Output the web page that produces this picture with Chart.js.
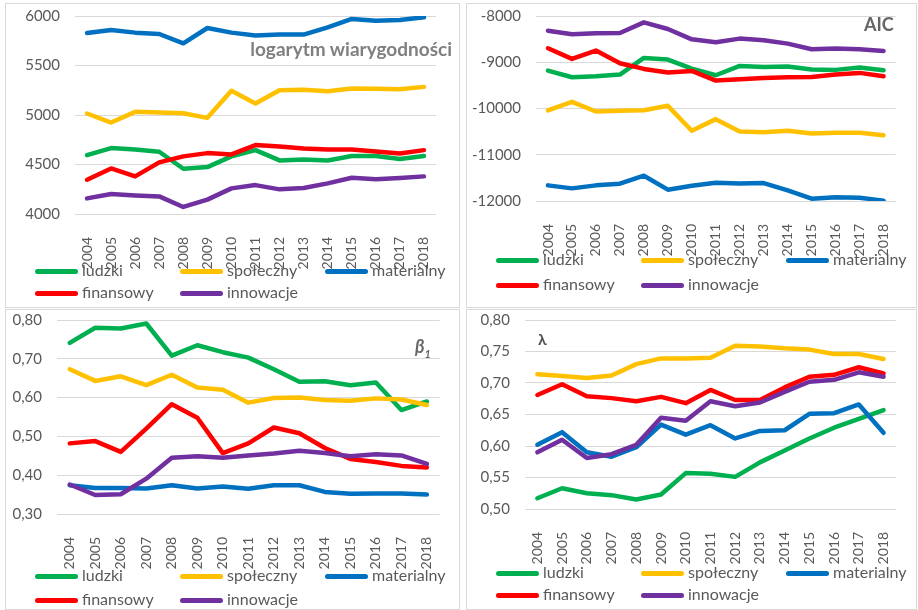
<!DOCTYPE html>
<html>
<head>
<meta charset="utf-8">
<script src="https://cdn.jsdelivr.net/npm/chart.js@4.4.0/dist/chart.umd.min.js"></script>
<style>
  body { margin: 0; background: #fff; font-family: Lato, sans-serif; }
  .panel { position: absolute; background: #fff; box-shadow: 0 0 0 1px #d9d9d9; }
  .panel canvas { position: absolute; left: 0; top: 0; }
  .title { position: absolute; font-weight: bold; white-space: nowrap; line-height: 1; }
  .leg { position: absolute; height: 20px; line-height: 20px; font-size: 16px; color: #595959; white-space: nowrap; }
  .leg .ln { display: inline-block; width: 43px; height: 5px; border-radius: 3px; vertical-align: middle; margin-right: 4px; }
</style>
</head>
<body>

<div class="panel" id="p1" style="left:6px;top:4px;width:453px;height:303px"><canvas id="c1" width="453" height="303"></canvas></div>
<div class="panel" id="p2" style="left:467px;top:4px;width:449px;height:303px"><canvas id="c2" width="449" height="303"></canvas></div>
<div class="panel" id="p3" style="left:6px;top:310px;width:453px;height:299px"><canvas id="c3" width="453" height="299"></canvas></div>
<div class="panel" id="p4" style="left:467px;top:310px;width:449px;height:299px"><canvas id="c4" width="449" height="299"></canvas></div>

<div class="title" style="left:200px;width:252px;text-align:right;top:39px;font-size:19px;color:#7f7f7f">logarytm wiarygodności</div>
<div class="title" style="left:864px;top:15px;font-size:18px;color:#666">AIC</div>
<div class="title" style="left:415px;top:337px;font-size:18px;color:#666"><i>β</i><sub style="font-size:11px"><i>1</i></sub></div>
<div class="title" style="left:538px;top:331px;font-size:16px;color:#555">λ</div>

<script>
const years = ['2004', '2005', '2006', '2007', '2008', '2009', '2010', '2011', '2012', '2013', '2014', '2015', '2016', '2017', '2018'];
const seriesNames = ['ludzki', 'społeczny', 'materialny', 'finansowy', 'innowacje'];
const seriesColors = ['#00b050', '#ffc000', '#0070c0', '#ff0000', '#7030a0'];

// logarytm wiarygodnosci
const logLudzki = [4595, 4666, 4652, 4629, 4457, 4474, 4582, 4645, 4541, 4551, 4541, 4585, 4585, 4555, 4585];
const logSpoleczny = [5015, 4924, 5032, 5025, 5018, 4971, 5244, 5116, 5250, 5254, 5240, 5267, 5264, 5261, 5284];
const logMaterialny = [5829, 5859, 5832, 5818, 5724, 5879, 5832, 5802, 5812, 5812, 5886, 5970, 5953, 5960, 5987];
const logFinansowy = [4346, 4460, 4380, 4521, 4582, 4615, 4602, 4696, 4682, 4662, 4652, 4652, 4632, 4612, 4645];
const logInnowacje = [4158, 4202, 4188, 4178, 4071, 4145, 4259, 4292, 4249, 4262, 4309, 4366, 4350, 4363, 4380];

// AIC
const aicLudzki = [-9180, -9324, -9302, -9266, -8906, -8942, -9137, -9281, -9079, -9101, -9094, -9158, -9165, -9115, -9173];
const aicSpoleczny = [-10043, -9856, -10065, -10050, -10036, -9942, -10482, -10230, -10496, -10511, -10482, -10540, -10525, -10525, -10576];
const aicMaterialny = [-11662, -11727, -11662, -11626, -11453, -11755, -11669, -11604, -11619, -11612, -11770, -11950, -11921, -11928, -11993];
const aicFinansowy = [-8698, -8928, -8748, -9022, -9144, -9223, -9187, -9396, -9367, -9338, -9324, -9317, -9266, -9230, -9302];
const aicInnowacje = [-8317, -8396, -8374, -8367, -8137, -8281, -8504, -8568, -8489, -8525, -8597, -8719, -8705, -8719, -8755];

// beta 1
const betaLudzki = [0.741, 0.780, 0.778, 0.791, 0.708, 0.735, 0.717, 0.703, 0.673, 0.641, 0.642, 0.632, 0.639, 0.568, 0.590];
const betaSpoleczny = [0.673, 0.643, 0.655, 0.632, 0.659, 0.626, 0.620, 0.587, 0.599, 0.600, 0.594, 0.592, 0.598, 0.595, 0.581];
const betaMaterialny = [0.374, 0.367, 0.367, 0.366, 0.374, 0.366, 0.371, 0.365, 0.374, 0.374, 0.357, 0.352, 0.353, 0.353, 0.350];
const betaFinansowy = [0.482, 0.488, 0.460, 0.520, 0.583, 0.548, 0.457, 0.482, 0.523, 0.508, 0.470, 0.442, 0.434, 0.424, 0.420];
const betaInnowacje = [0.376, 0.349, 0.351, 0.391, 0.445, 0.449, 0.445, 0.451, 0.456, 0.463, 0.457, 0.449, 0.454, 0.451, 0.429];

// lambda
const lamLudzki = [0.517, 0.533, 0.525, 0.522, 0.515, 0.523, 0.557, 0.556, 0.551, 0.574, 0.593, 0.612, 0.629, 0.643, 0.657];
const lamSpoleczny = [0.714, 0.711, 0.708, 0.712, 0.730, 0.739, 0.739, 0.740, 0.759, 0.758, 0.755, 0.753, 0.746, 0.746, 0.738];
const lamMaterialny = [0.602, 0.622, 0.590, 0.583, 0.598, 0.634, 0.618, 0.633, 0.612, 0.624, 0.625, 0.651, 0.652, 0.666, 0.621];
const lamFinansowy = [0.681, 0.698, 0.679, 0.676, 0.671, 0.678, 0.668, 0.689, 0.673, 0.673, 0.693, 0.710, 0.713, 0.725, 0.715];
const lamInnowacje = [0.590, 0.610, 0.581, 0.587, 0.602, 0.645, 0.640, 0.671, 0.663, 0.669, 0.686, 0.702, 0.705, 0.717, 0.710];

const intFmt = v => String(v);
const decFmt = v => v.toFixed(2).replace('.', ',');

function drawPanel(id, values, yMin, yMax, step, fmt, lay) {
  new Chart(document.getElementById(id), {
    type: 'line',
    data: {
      labels: years,
      datasets: values.map((v, i) => ({
        label: seriesNames[i],
        data: v,
        borderColor: seriesColors[i],
        backgroundColor: seriesColors[i],
        borderWidth: 4.5,
        pointRadius: 0,
        tension: 0,
        borderCapStyle: 'round',
        borderJoinStyle: 'round',
        order: 5 - i
      }))
    },
    options: {
      responsive: false,
      animation: false,
      devicePixelRatio: 1,
      layout: { padding: { top: lay.top, right: lay.right, left: 0, bottom: 0 } },
      plugins: { legend: { display: false }, tooltip: { enabled: false } },
      scales: {
        x: {
          offset: true,
          grid: { display: false },
          border: { display: false },
          ticks: { color: '#595959', font: { family: 'Lato', size: 14 }, minRotation: 90, maxRotation: 90, autoSkip: false, padding: 15 },
          afterFit: s => { s.height = lay.xh; }
        },
        y: {
          min: yMin,
          max: yMax,
          grid: { color: '#d9d9d9', lineWidth: 1, drawTicks: false },
          border: { display: false },
          ticks: { stepSize: step, color: '#595959', font: { family: 'Lato', size: 15 }, padding: 15, callback: fmt },
          afterFit: s => { s.width = lay.yw; s.paddingTop = 0; s.paddingBottom = 0; }
        }
      }
    }
  });
}

// legend: three columns, two rows, like the spreadsheet one
function drawLegend(panelId, rowTops) {
  const panel = document.getElementById(panelId);
  const cols = [29, 174, 319];
  seriesNames.forEach((name, i) => {
    const d = document.createElement('div');
    d.className = 'leg';
    d.style.left = cols[i % 3] + 'px';
    d.style.top = (rowTops[Math.floor(i / 3)] - 10) + 'px';
    d.innerHTML = '<span class="ln" style="background:' + seriesColors[i] + '"></span>' + name;
    panel.appendChild(d);
  });
}

drawPanel('c1', [logLudzki, logSpoleczny, logMaterialny, logFinansowy, logInnowacje], 4000, 6000, 500, intFmt, { top: 12, right: 23, yw: 69, xh: 93 });
drawPanel('c2', [aicLudzki, aicSpoleczny, aicMaterialny, aicFinansowy, aicInnowacje], -12000, -8000, 1000, intFmt, { top: 12, right: 19, yw: 69, xh: 106 });
drawPanel('c3', [betaLudzki, betaSpoleczny, betaMaterialny, betaFinansowy, betaInnowacje], 0.3, 0.8, 0.1, decFmt, { top: 10, right: 9, yw: 51, xh: 95 });
drawPanel('c4', [lamLudzki, lamSpoleczny, lamMaterialny, lamFinansowy, lamInnowacje], 0.5, 0.8, 0.05, decFmt, { top: 10, right: 19, yw: 58, xh: 100 });

drawLegend('p1', [266, 288]);
drawLegend('p2', [255, 280]);
drawLegend('p3', [265, 289]);
drawLegend('p4', [262, 284]);
</script>
</body>
</html>
